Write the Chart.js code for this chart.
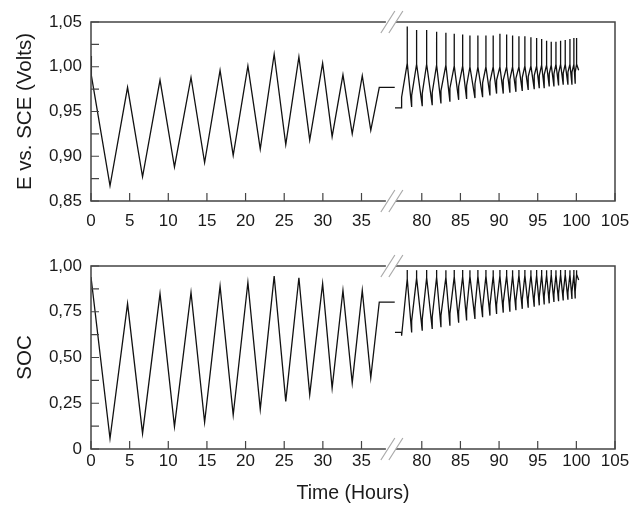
<!DOCTYPE html>
<html>
<head>
<meta charset="utf-8">
<script src="https://cdn.jsdelivr.net/npm/chart.js@4"></script>
<style>
  html, body { margin: 0; padding: 0; background: #fff; }
  #wrap { position: relative; width: 630px; height: 507px; }
  canvas { position: absolute; left: 0; }
  #top { top: 0; }
  #bottom { top: 235px; }
</style>
</head>
<body>
<div id="wrap">
  <canvas id="top" width="630" height="235"></canvas>
  <canvas id="bottom" width="630" height="272"></canvas>
</div>
<script>
// x axis is broken: hours after the gap are shifted left by this much
const gapShift = 37.2;
const breakPos = 38.8;
const xTickLabels = [0, 5, 10, 15, 20, 25, 30, 35, 80, 85, 90, 95, 100, 105];

const eTicks = [0.85, 0.90, 0.95, 1.00, 1.05];
const eTickLabels = ['0,85', '0,90', '0,95', '1,00', '1,05'];
const socTicks = [0, 0.25, 0.5, 0.75, 1.0];
const socTickLabels = ['0', '0,25', '0,50', '0,75', '1,00'];

// first run (0 - 39 h): turning points
const eLeftT = [0, 0.05, 2.46, 4.73, 6.67, 8.93, 10.8, 12.94, 14.7, 16.7, 18.4, 20.3, 21.9, 23.7, 25.2, 26.9, 28.3, 29.97, 31.2, 32.6, 33.8, 35.1, 36.2, 37.3, 39.3];
const eLeftV = [1.012, 0.99, 0.867, 0.977, 0.877, 0.985, 0.888, 0.988, 0.893, 0.996, 0.901, 1.001, 0.908, 1.014, 0.913, 1.011, 0.918, 1.004, 0.922, 0.991, 0.925, 0.990, 0.929, 0.977, 0.977];
const socLeftT = [0, 2.46, 4.73, 6.67, 8.93, 10.8, 12.94, 14.7, 16.7, 18.4, 20.3, 21.9, 23.7, 25.2, 26.9, 28.3, 29.97, 31.2, 32.6, 33.8, 35.1, 36.2, 37.3, 39.3];
const socLeftV = [0.94, 0.057, 0.794, 0.085, 0.849, 0.122, 0.855, 0.146, 0.890, 0.186, 0.910, 0.217, 0.945, 0.26, 0.936, 0.297, 0.904, 0.333, 0.867, 0.361, 0.867, 0.389, 0.803, 0.803];

// second run (76.5 - 100.3 h)
const rightStartT = [76.53, 77.39, 77.39];
const rightEndT = 100.3;
const rightPeakT = [78.12, 79.33, 80.63, 81.92, 83.12, 84.2, 85.29, 86.23, 87.26, 88.3, 89.24, 90.11, 90.98, 91.75, 92.57, 93.34, 94.12, 94.86, 95.51, 96.15, 96.75, 97.36, 97.96, 98.56, 99.17, 99.68, 100.03];
const rightMinT = [78.69, 80.06, 81.35, 82.48, 83.64, 84.77, 85.8, 86.88, 87.87, 88.82, 89.68, 90.54, 91.4, 92.18, 93.0, 93.77, 94.55, 95.2, 95.84, 96.49, 97.1, 97.7, 98.3, 98.91, 99.43, 99.85];

const eRightStart = [0.954, 0.954, 0.966];
const eRightEnd = 0.996;
const eRightSpike = [1.045, 1.041, 1.041, 1.039, 1.038, 1.037, 1.036, 1.035, 1.035, 1.035, 1.035, 1.037, 1.036, 1.035, 1.034, 1.034, 1.033, 1.032, 1.031, 1.029, 1.028, 1.028, 1.029, 1.030, 1.031, 1.032, 1.032];
const eRightBody = [1.004, 1.003, 1.003, 1.002, 1.002, 1.001, 1.001, 1.0, 1.0, 1.0, 1.0, 1.0, 1.0, 1.0, 1.0, 1.001, 1.001, 1.001, 1.002, 1.002, 1.002, 1.003, 1.003, 1.003, 1.003, 1.003, 1.003];
const eRightMin = [0.955, 0.956, 0.957, 0.959, 0.961, 0.963, 0.964, 0.965, 0.966, 0.968, 0.970, 0.970, 0.971, 0.972, 0.973, 0.974, 0.975, 0.976, 0.976, 0.978, 0.978, 0.979, 0.980, 0.980, 0.980, 0.981];
const eRightJump = [0.968, 0.970, 0.971, 0.973, 0.976, 0.978, 0.979, 0.981, 0.982, 0.983, 0.985, 0.985, 0.986, 0.987, 0.988, 0.989, 0.990, 0.990, 0.991, 0.992, 0.992, 0.993, 0.993, 0.994, 0.994, 0.994];

const socRightStart = [0.637, 0.637, 0.619];
const socRightEnd = 0.923;
const socRightSpike = [0.978, 0.977, 0.978, 0.978, 0.977, 0.978, 0.978, 0.977, 0.978, 0.978, 0.977, 0.978, 0.978, 0.977, 0.978, 0.978, 0.977, 0.978, 0.978, 0.977, 0.978, 0.977, 0.978, 0.978, 0.977, 0.978, 0.977];
const socRightBody = [0.93, 0.935, 0.937, 0.94, 0.94, 0.942, 0.944, 0.945, 0.945, 0.946, 0.947, 0.948, 0.948, 0.949, 0.95, 0.95, 0.951, 0.951, 0.952, 0.952, 0.953, 0.953, 0.954, 0.954, 0.955, 0.955, 0.955];
const socRightMin = [0.637, 0.646, 0.656, 0.665, 0.674, 0.690, 0.702, 0.711, 0.720, 0.729, 0.738, 0.745, 0.750, 0.758, 0.766, 0.772, 0.778, 0.785, 0.790, 0.796, 0.803, 0.808, 0.812, 0.816, 0.820, 0.823];
const socRightJump = [0.70, 0.71, 0.72, 0.73, 0.74, 0.75, 0.76, 0.77, 0.775, 0.785, 0.79, 0.80, 0.80, 0.81, 0.815, 0.82, 0.825, 0.83, 0.835, 0.84, 0.845, 0.85, 0.85, 0.855, 0.86, 0.86];

const font = '"Liberation Sans", Arial, sans-serif';
const textColor = '#1a1a1a';

function xPos(t) {
  return t > 60 ? t - gapShift : t;
}

function leftPoints(ts, vs) {
  return ts.map((t, i) => ({ x: xPos(t), y: vs[i] }));
}

function rightPoints(start, spike, body, mins, jumps, end) {
  const pts = rightStartT.map((t, i) => ({ x: xPos(t), y: start[i] }));
  rightPeakT.forEach((t, i) => {
    pts.push({ x: xPos(t), y: body[i] });
    pts.push({ x: xPos(t), y: spike[i] });
    pts.push({ x: xPos(t), y: body[i] });
    if (i < mins.length) {
      pts.push({ x: xPos(rightMinT[i]), y: mins[i] });
      pts.push({ x: xPos(rightMinT[i]), y: jumps[i] });
    }
  });
  pts.push({ x: xPos(rightEndT), y: end });
  return pts;
}

const framePlugin = {
  id: 'frame',
  afterDatasetsDraw(chart) {
    const { ctx, chartArea: a, scales: { x, y } } = chart;
    const xb = x.getPixelForValue(breakPos);
    ctx.save();
    ctx.strokeStyle = '#444';
    ctx.lineWidth = 1.5;
    ctx.beginPath();
    ctx.moveTo(xb - 5, a.top); ctx.lineTo(a.left, a.top); ctx.lineTo(a.left, a.bottom); ctx.lineTo(xb - 5, a.bottom);
    ctx.moveTo(xb + 5, a.top); ctx.lineTo(a.right, a.top); ctx.lineTo(a.right, a.bottom); ctx.lineTo(xb + 5, a.bottom);
    ctx.stroke();

    // tick marks point into the plot; y gets a minor tick between labels
    ctx.lineWidth = 1.2;
    ctx.beginPath();
    x.ticks.forEach(t => {
      const px = x.getPixelForValue(t.value);
      ctx.moveTo(px, a.bottom); ctx.lineTo(px, a.bottom - 8);
    });
    const yv = y.ticks.map(t => t.value);
    yv.forEach((v, i) => {
      const marks = i < yv.length - 1 ? [v, (v + yv[i + 1]) / 2] : [v];
      marks.forEach(m => {
        const py = y.getPixelForValue(m);
        ctx.moveTo(a.left, py); ctx.lineTo(a.left + 8, py);
      });
    });
    ctx.stroke();

    // "//" break marks
    ctx.strokeStyle = '#aaa';
    ctx.beginPath();
    [a.top, a.bottom].forEach(yy => {
      [-3, 5].forEach(d => {
        ctx.moveTo(xb + d - 7, yy + 11); ctx.lineTo(xb + d + 7, yy - 11);
      });
    });
    ctx.stroke();
    ctx.restore();
  }
};

function panel(id, cfg) {
  const line = { borderColor: '#111', borderWidth: 1.3, pointRadius: 0, tension: 0, fill: false };
  return new Chart(document.getElementById(id), {
    type: 'line',
    data: {
      datasets: [
        Object.assign({ data: cfg.left }, line),
        Object.assign({ data: cfg.right }, line)
      ]
    },
    options: {
      responsive: false,
      animation: false,
      events: [],
      layout: { padding: { top: cfg.padTop, right: 15, left: 0, bottom: 0 } },
      plugins: { legend: { display: false }, tooltip: { enabled: false } },
      scales: {
        x: {
          type: 'linear',
          min: 0,
          max: xPos(105),
          afterFit: s => {
            s.height = cfg.xHeight;
            s.paddingLeft = 0;
            s.paddingRight = 0;
          },
          afterBuildTicks: s => { s.ticks = xTickLabels.map(v => ({ value: xPos(v) })); },
          grid: { display: false, drawTicks: false },
          border: { display: false },
          ticks: {
            autoSkip: false, maxRotation: 0, padding: cfg.labelPad, color: textColor,
            font: { family: font, size: 17 },
            callback: (v, i) => xTickLabels[i]
          },
          title: {
            display: !!cfg.xTitle, text: cfg.xTitle || '', color: textColor,
            font: { family: font, size: 19.5 }, padding: { top: 0, bottom: 2 }
          }
        },
        y: {
          min: cfg.ticks[0],
          max: cfg.ticks[cfg.ticks.length - 1],
          afterFit: s => {
            s.width = 91;
            s.paddingTop = 0;
            s.paddingBottom = 0;
          },
          afterBuildTicks: s => { s.ticks = cfg.ticks.map(v => ({ value: v })); },
          grid: { display: false, drawTicks: false },
          border: { display: false },
          ticks: {
            padding: 9, color: textColor,
            font: { family: font, size: 17 },
            callback: (v, i) => cfg.labels[i]
          },
          title: {
            display: true, text: cfg.yTitle, color: textColor,
            font: { family: font, size: 20.5 }, padding: { top: 13, bottom: 0 }
          }
        }
      }
    },
    plugins: [framePlugin]
  });
}

panel('top', {
  left: leftPoints(eLeftT, eLeftV),
  right: rightPoints(eRightStart, eRightSpike, eRightBody, eRightMin, eRightJump, eRightEnd),
  ticks: eTicks, labels: eTickLabels,
  yTitle: 'E vs. SCE (Volts)',
  padTop: 22, xHeight: 34, labelPad: 10
});

panel('bottom', {
  left: leftPoints(socLeftT, socLeftV),
  right: rightPoints(socRightStart, socRightSpike, socRightBody, socRightMin, socRightJump, socRightEnd),
  ticks: socTicks, labels: socTickLabels,
  yTitle: 'SOC', xTitle: 'Time (Hours)',
  padTop: 31, xHeight: 58, labelPad: 2
});
</script>
</body>
</html>
